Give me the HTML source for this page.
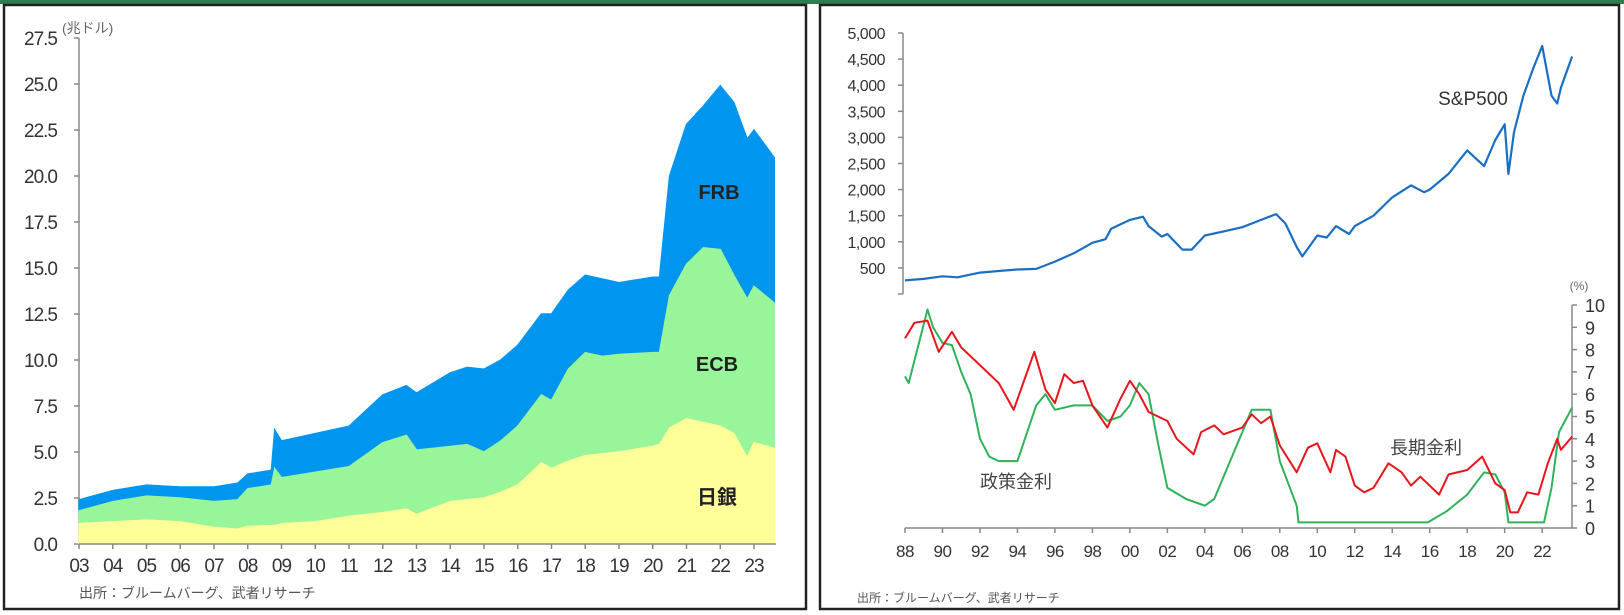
<!DOCTYPE html>
<html><head><meta charset="utf-8"><style>
html,body{margin:0;padding:0;background:#fff;}
svg{display:block;font-family:"Liberation Sans","Noto Sans CJK JP",sans-serif;}
</style></head><body>
<svg id="root" width="1624" height="615" viewBox="0 0 1624 615" xmlns="http://www.w3.org/2000/svg">
<rect x="0" y="0" width="1624" height="4" fill="#2e7d4f"/>
<rect x="4" y="5" width="802" height="604" fill="none" stroke="#222" stroke-width="2.5"/>
<rect x="820" y="5" width="799" height="604" fill="none" stroke="#222" stroke-width="2.5"/>
<g id="left"></g>
<g id="right"></g>
</svg>
<script>
const bsYears=[2003,2004,2005,2006,2007,2007.7,2008,2008.7,2008.8,2009,2010,2011,2012,2012.7,2013,2014,2014.5,2015,2015.5,2016,2016.7,2017,2017.5,2018,2018.5,2019,2020,2020.2,2020.5,2021,2021.5,2022,2022.4,2022.8,2023,2023.6];
const bojValues=[1.1,1.2,1.3,1.2,0.9,0.8,0.95,1.0,1.0,1.1,1.2,1.5,1.7,1.9,1.6,2.3,2.4,2.5,2.8,3.2,4.4,4.1,4.5,4.8,4.9,5.0,5.3,5.4,6.3,6.8,6.6,6.4,6.0,4.7,5.5,5.2];
const ecbValues=[0.7,1.1,1.3,1.3,1.4,1.6,2.05,2.2,3.1,2.5,2.7,2.7,3.8,4.0,3.5,3.0,3.0,2.5,2.8,3.2,3.7,3.7,5.0,5.6,5.3,5.3,5.1,5.0,7.2,8.4,9.5,9.6,8.6,8.6,8.5,7.9];
const frbValues=[0.6,0.6,0.6,0.6,0.8,0.9,0.8,0.8,2.1,2.0,2.1,2.2,2.6,2.7,3.1,4.0,4.2,4.5,4.4,4.4,4.4,4.7,4.3,4.2,4.2,3.9,4.1,4.1,6.5,7.6,7.7,8.9,9.4,8.7,8.5,7.9];
const bsYTicks=["0.0","2.5","5.0","7.5","10.0","12.5","15.0","17.5","20.0","22.5","25.0","27.5"];
const bsXTicks=["03","04","05","06","07","08","09","10","11","12","13","14","15","16","17","18","19","20","21","22","23"];

const spYears=[1988,1989,1990,1990.8,1992,1993,1994,1995,1996,1997,1998,1998.7,1999,2000,2000.7,2001,2001.7,2002,2002.8,2003.3,2004,2005,2006,2007,2007.8,2008.3,2008.9,2009.2,2010,2010.5,2011,2011.7,2012,2013,2014,2015,2015.7,2016,2017,2018,2018.9,2019.5,2020,2020.2,2020.5,2021,2021.5,2022,2022.5,2022.8,2023,2023.6];
const spValues=[260,290,340,320,410,440,470,480,620,780,980,1050,1250,1420,1480,1300,1100,1150,850,850,1120,1200,1280,1420,1530,1350,900,720,1120,1080,1300,1150,1300,1500,1850,2080,1950,2000,2300,2750,2450,2950,3250,2300,3100,3800,4300,4750,3800,3650,3950,4550];
const spYTicks=["500","1,000","1,500","2,000","2,500","3,000","3,500","4,000","4,500","5,000"];

const longYears=[1988,1988.5,1989.2,1989.8,1990.5,1991,1992,1993,1993.8,1994.9,1995.5,1996,1996.5,1997,1997.5,1998,1998.8,1999.5,2000,2000.5,2001,2001.5,2002,2002.5,2003.4,2003.8,2004.5,2005,2006,2006.5,2007,2007.5,2008,2008.9,2009.5,2010,2010.7,2011,2011.5,2012,2012.5,2013,2013.8,2014.5,2015,2015.5,2016.5,2017,2018,2018.8,2019.5,2020,2020.3,2020.7,2021.2,2021.8,2022.3,2022.8,2023,2023.6];
const longValues=[8.5,9.2,9.3,7.9,8.8,8.1,7.3,6.5,5.3,7.9,6.2,5.6,6.9,6.5,6.6,5.5,4.5,5.8,6.6,6.0,5.2,5.0,4.8,4.0,3.3,4.3,4.6,4.2,4.5,5.1,4.7,5.0,3.7,2.5,3.6,3.8,2.5,3.5,3.2,1.9,1.6,1.8,2.9,2.5,1.9,2.3,1.5,2.4,2.6,3.2,2.0,1.7,0.7,0.7,1.6,1.5,2.9,4.0,3.5,4.1];
const policyYears=[1988,1988.2,1988.5,1989.2,1989.5,1990,1990.5,1991,1991.5,1992,1992.5,1993,1994,1994.2,1995,1995.5,1996,1997,1998,1998.8,1999.5,2000,2000.5,2001,2001.5,2002,2003,2004,2004.5,2006,2006.5,2007.5,2008,2008.9,2009,2015.9,2016.9,2018,2018.9,2019.5,2020,2020.2,2022.1,2022.5,2022.9,2023.6];
const policyValues=[6.8,6.5,7.5,9.8,9.0,8.3,8.2,7.0,6.0,4.0,3.2,3.0,3.0,3.5,5.5,6.0,5.3,5.5,5.5,4.8,5.0,5.5,6.5,6.0,3.8,1.8,1.3,1.0,1.3,4.3,5.3,5.3,3.0,1.0,0.25,0.25,0.75,1.5,2.5,2.4,1.6,0.25,0.25,1.8,4.3,5.4];
const rateYTicks=["0","1","2","3","4","5","6","7","8","9","10"];
const rateXTicks=["88","90","92","94","96","98","00","02","04","06","08","10","12","14","16","18","20","22"];

const NS="http://www.w3.org/2000/svg";
function mk(parent,tag,attrs,text){const e=document.createElementNS(NS,tag);for(const k in attrs)e.setAttribute(k,attrs[k]);if(text!==undefined)e.textContent=text;parent.appendChild(e);return e;}

// ---- left chart ----
const L=document.getElementById('left');
const lx=y=>79+(y-2003)*33.75;
const ly=v=>544-v*18.4;
let ax=mk(L,'line',{x1:79,y1:ly(27.5),x2:79,y2:544,stroke:'#888','stroke-width':1.5});

bsYTicks.forEach((t,i)=>{const v=i*2.5;
 const tk=mk(L,'line',{x1:74,y1:ly(v),x2:79,y2:ly(v),stroke:'#888','stroke-width':1.5});
 
 const tl=mk(L,'text',{x:57,y:ly(v)+7,'text-anchor':'end','font-size':19,fill:'#333','letter-spacing':'-1'},t);
 });
const unit=mk(L,'text',{x:62,y:33,'font-size':14,fill:'#666'},'(兆ドル)');

// stacked areas
const c1=bojValues, c2=bojValues.map((v,i)=>v+ecbValues[i]), c3=c2.map((v,i)=>v+frbValues[i]);
function area(top,bot,fill,name){let d='M'+bsYears.map((y,i)=>lx(y)+','+ly(top[i])).join(' L');
 for(let i=bsYears.length-1;i>=0;i--)d+=' L'+lx(bsYears[i])+','+ly(bot?bot[i]:0);
 const p=mk(L,'path',{d:d+'Z',fill:fill,stroke:fill,'stroke-width':1.5});
 }
area(c3,c2,'#0096f0','frb-area');
area(c2,c1,'#99f599','ecb-area');
area(c1,null,'#ffff99','boj-area');
const xa=mk(L,'line',{x1:79,y1:544,x2:776,y2:544,stroke:'#888','stroke-width':1.5});

bsXTicks.forEach((t,i)=>{const x=lx(2003+i);
 const tk=mk(L,'line',{x1:x,y1:544,x2:x,y2:549,stroke:'#888','stroke-width':1.5});
 
 const tl=mk(L,'text',{x:x,y:572,'text-anchor':'middle','font-size':19,fill:'#333','letter-spacing':'-1'},t);
 });
[['FRB',719,199,'frb-label'],['ECB',717,371,'ecb-label'],['日銀',717,504,'boj-label']].forEach(a=>{
 const t=mk(L,'text',{x:a[1],y:a[2],'text-anchor':'middle','font-size':20,'font-weight':'bold',fill:'#222'},a[0]);
 });
const s1=mk(L,'text',{x:79,y:598,'font-size':14,fill:'#555'},'出所：ブルームバーグ、武者リサーチ');


// ---- right chart ----
const R=document.getElementById('right');
const rx=y=>905+(y-1988)*18.74;
const sy=v=>294-v*0.0522;
const ry=v=>528-v*22.3;
const sax=mk(R,'line',{x1:903,y1:sy(5000),x2:903,y2:sy(0),stroke:'#888','stroke-width':1.5});

spYTicks.forEach((t,i)=>{const v=(i+1)*500;
 const tk=mk(R,'line',{x1:898,y1:sy(v),x2:903,y2:sy(v),stroke:'#888','stroke-width':1.5});
 
 const tl=mk(R,'text',{x:885,y:sy(v)+6,'text-anchor':'end','font-size':16,fill:'#333','letter-spacing':'-0.5'},t);
 });
const bt=mk(R,'line',{x1:898,y1:sy(0),x2:903,y2:sy(0),stroke:'#888','stroke-width':1.5});

function line(xs,ys,fy,col,name,w){const p=mk(R,'path',{d:'M'+xs.map((y,i)=>rx(y).toFixed(1)+','+fy(ys[i]).toFixed(1)).join(' L'),fill:'none',stroke:col,'stroke-width':w,'stroke-linejoin':'round'});
 }
line(spYears,spValues,sy,'#1a6fc4','sp500-line',2.2);
const spl=mk(R,'text',{x:1473,y:105,'text-anchor':'middle','font-size':19,fill:'#333'},'S&P500');

// rates
const rax=mk(R,'line',{x1:1572,y1:ry(10),x2:1572,y2:ry(0),stroke:'#888','stroke-width':1.5});

rateYTicks.forEach((t,i)=>{
 const tk=mk(R,'line',{x1:1572,y1:ry(i),x2:1577,y2:ry(i),stroke:'#888','stroke-width':1.5});
 
 const tl=mk(R,'text',{x:1585,y:ry(i)+7,'font-size':18,fill:'#333'},t);
 });
const pu=mk(R,'text',{x:1579,y:290,'text-anchor':'middle','font-size':12,fill:'#666'},'(%)');

const rxa=mk(R,'line',{x1:905,y1:ry(0),x2:1572,y2:ry(0),stroke:'#888','stroke-width':1.5});

rateXTicks.forEach((t,i)=>{const x=rx(1988+2*i);
 const tk=mk(R,'line',{x1:x,y1:ry(0),x2:x,y2:ry(0)+5,stroke:'#888','stroke-width':1.5});
 
 const tl=mk(R,'text',{x:x,y:557,'text-anchor':'middle','font-size':17,fill:'#333','letter-spacing':'-0.5'},t);
 });
line(policyYears,policyValues,ry,'#2fb35a','policy-rate-line',2);
line(longYears,longValues,ry,'#e8161c','long-rate-line',2);
const pl=mk(R,'text',{x:1016,y:488,'text-anchor':'middle','font-size':18,fill:'#444'},'政策金利');

const ll=mk(R,'text',{x:1426,y:454,'text-anchor':'middle','font-size':18,fill:'#444'},'長期金利');

const s2=mk(R,'text',{x:857,y:602,'font-size':12,fill:'#555'},'出所：ブルームバーグ、武者リサーチ');

</script>
</body></html>
